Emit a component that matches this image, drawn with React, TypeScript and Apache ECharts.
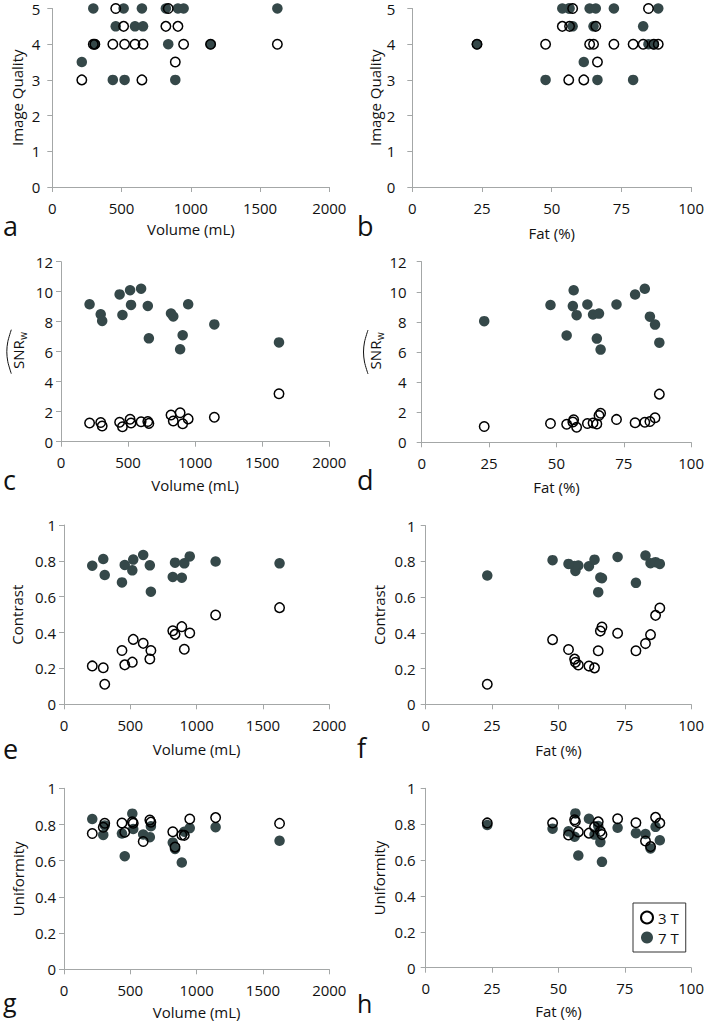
import React, { useEffect, useRef } from "react";
import * as echarts from "echarts";

// ---- data (17 subjects) ----
const volume = [213, 296, 307, 437, 458, 515, 522, 597, 647, 655, 820, 837, 888, 907, 948, 1143, 1625];
const fat = [61.5, 63.6, 23.2, 79.2, 57.5, 56.4, 47.8, 82.8, 56.1, 65.0, 65.8, 84.7, 66.4, 53.8, 72.3, 86.6, 88.2];
const iq3T = [3, 4, 4, 4, 5, 4.5, 4, 4, 3, 4, 4.5, 5, 3.5, 4.5, 4, 4, 4];
const iq7T = [3.5, 5, 4, 3, 4.5, 5, 3, 4.5, 5, 4.5, 5, 4, 3, 5, 5, 4, 5];
const snr3T = [1.25, 1.28, 1.05, 1.3, 1.0, 1.5, 1.25, 1.33, 1.35, 1.22, 1.78, 1.38, 1.93, 1.2, 1.52, 1.63, 3.2];
const snr7T = [9.16, 8.49, 8.05, 9.82, 8.45, 10.1, 9.12, 10.2, 9.05, 6.89, 8.55, 8.35, 6.16, 7.1, 9.16, 7.82, 6.62];
const contrast3T = [0.214, 0.204, 0.112, 0.3, 0.22, 0.235, 0.362, 0.34, 0.253, 0.3, 0.41, 0.39, 0.433, 0.307, 0.398, 0.498, 0.539];
const contrast7T = [0.773, 0.81, 0.721, 0.68, 0.777, 0.747, 0.807, 0.833, 0.775, 0.628, 0.71, 0.79, 0.706, 0.786, 0.825, 0.796, 0.786];
const uniformity3T = [0.75, 0.785, 0.807, 0.808, 0.757, 0.815, 0.807, 0.706, 0.825, 0.813, 0.76, 0.675, 0.742, 0.74, 0.83, 0.838, 0.806];
const uniformity7T = [0.83, 0.742, 0.795, 0.75, 0.625, 0.86, 0.775, 0.745, 0.73, 0.79, 0.7, 0.665, 0.59, 0.76, 0.78, 0.785, 0.71];

const seriesNames = ["3 T", "7 T"];
const panelLetters = ["a", "b", "c", "d", "e", "f", "g", "h"];
const volumeTicks = { min: 0, max: 2000, interval: 500, name: "Volume (mL)" };
const fatTicks = { min: 0, max: 100, interval: 25, name: "Fat (%)" };

const FONT = '"Open Sans", "Noto Sans", sans-serif';
const FS = 15;
const AXIS_COLOR = "#a4a7a7";
const DARK = "#354849";

const metrics = [
  { name: "Image Quality", v3: iq3T, v7: iq7T, min: 0, max: 5, interval: 1 },
  { name: "SNR", v3: snr3T, v7: snr7T, min: 0, max: 12, interval: 2 },
  { name: "Contrast", v3: contrast3T, v7: contrast7T, min: 0, max: 1, interval: 0.2 },
  { name: "Uniformity", v3: uniformity3T, v7: uniformity7T, min: 0, max: 1, interval: 0.2 },
];

// layout (pixels)
const layouts = [
  { left: 52.3, top: 8.5, width: 277, height: 178.5 },
  { left: 412.3, top: 8.5, width: 281, height: 178.5 },
  { left: 61, top: 261.7, width: 268.3, height: 180 },
  { left: 421.7, top: 261.7, width: 272.3, height: 180.6 },
  { left: 64, top: 525, width: 265.3, height: 179.3 },
  { left: 425.7, top: 525.7, width: 268.6, height: 178.6 },
  { left: 64, top: 788.3, width: 265.3, height: 181 },
  { left: 425.7, top: 788.3, width: 268.6, height: 179.4 },
];
const yLabelMargin = [12, 17, 8, 15, 8, 10, 8, 10];
const yNameGap = [28, 29, 0, 0, 40, 39, 39, 39];
const xNameGap = [34, 38, 36, 37, 37, 38, 35, 36];
const letterPos = [
  [3, 225], [357, 225], [3, 479], [357, 479], [3, 748], [357, 747], [3, 1002], [357, 1003],
];
const letterSize = [27, 27, 27, 27, 27, 27, 25, 25];

function buildOption() {
  const grid: any[] = [];
  const xAxis: any[] = [];
  const yAxis: any[] = [];
  const series: any[] = [];
  const graphic: any[] = [];

  for (let i = 0; i < 8; i++) {
    const m = metrics[Math.floor(i / 2)];
    const xs = i % 2 === 0 ? volume : fat;
    const xt = i % 2 === 0 ? volumeTicks : fatTicks;
    const L = layouts[i];
    grid.push({ left: L.left, top: L.top, width: L.width, height: L.height, containLabel: false });
    xAxis.push({
      type: "value",
      gridIndex: i,
      min: xt.min,
      max: xt.max,
      interval: xt.interval,
      name: xt.name,
      nameLocation: "middle",
      nameGap: xNameGap[i],
      nameTextStyle: { fontFamily: FONT, fontSize: FS, color: "#111" },
      axisLine: { show: true, onZero: false, lineStyle: { color: AXIS_COLOR, width: 1 } },
      axisTick: { show: true, length: 5, lineStyle: { color: AXIS_COLOR } },
      splitLine: { show: false },
      axisLabel: {
        fontFamily: FONT,
        fontSize: FS,
        color: "#111",
        margin: 13,
        showMinLabel: true,
        showMaxLabel: true,
        formatter: (v: number) => String(v),
      },
    });
    const isSNR = m.name === "SNR";
    yAxis.push({
      type: "value",
      gridIndex: i,
      min: m.min,
      max: m.max,
      interval: m.interval,
      name: isSNR ? "" : m.name,
      nameLocation: "middle",
      nameRotate: 90,
      nameGap: yNameGap[i],
      nameTextStyle: { fontFamily: FONT, fontSize: FS, color: "#111" },
      axisLine: { show: true, lineStyle: { color: AXIS_COLOR, width: 1 } },
      axisTick: { show: true, length: 5, lineStyle: { color: AXIS_COLOR } },
      splitLine: { show: false },
      axisLabel: {
        fontFamily: FONT,
        fontSize: FS,
        color: "#111",
        margin: yLabelMargin[i],
        formatter: (v: number) => String(Math.round(v * 10) / 10),
      },
    });
    series.push({
      name: seriesNames[1],
      type: "scatter",
      xAxisIndex: i,
      yAxisIndex: i,
      symbol: "circle",
      symbolSize: 10.5,
      itemStyle: { color: DARK, opacity: 1 },
      data: xs.map((x, k) => [x, m.v7[k]]),
      z: 2,
    });
    series.push({
      name: seriesNames[0],
      type: "scatter",
      xAxisIndex: i,
      yAxisIndex: i,
      symbol: "circle",
      symbolSize: 9.5,
      itemStyle: { color: "rgba(255,255,255,0)", borderColor: "#000", borderWidth: 1.5, opacity: 1 },
      data: xs.map((x, k) => [x, m.v3[k]]),
      z: 3,
    });

    graphic.push({
      type: "text",
      x: letterPos[i][0],
      y: letterPos[i][1],
      style: {
        text: panelLetters[i],
        font: `${letterSize[i]}px ${FONT}`,
        fill: "#111",
        textAlign: "left",
        textVerticalAlign: "middle",
        verticalAlign: "middle",
      },
    });

    if (isSNR) {
      const cx = i % 2 === 0 ? 18.3 : 375;
      const cy = L.top + L.height / 2;
      graphic.push({
        type: "group",
        x: cx,
        y: cy,
        rotation: Math.PI / 2,
        children: [
          {
            type: "text",
            x: -3,
            y: 0,
            style: {
              text: "SNR",
              font: `${FS}px ${FONT}`,
              fill: "#111",
              align: "center",
              verticalAlign: "middle",
              textAlign: "center",
              textVerticalAlign: "middle",
            },
          },
          {
            type: "text",
            x: 12,
            y: 5,
            style: {
              text: "w",
              font: `10px ${FONT}`,
              fill: "#111",
              align: "left",
              verticalAlign: "middle",
              textAlign: "left",
              textVerticalAlign: "middle",
            },
          },
          {
            type: "polyline",
            shape: {
              points: [[-22, -7], [-10, -10.5], [0, -11.5], [10, -10.5], [22, -7]],
              smooth: 0.3,
            },
            style: { stroke: "#111", lineWidth: 1, fill: null },
          },
        ],
      });
    }
  }

  return {
    animation: false,
    backgroundColor: "#ffffff",
    textStyle: { fontFamily: FONT },
    grid,
    xAxis,
    yAxis,
    series,
    graphic,
    legend: {
      data: seriesNames,
      orient: "vertical",
      left: 633,
      top: 903,
      padding: [7, 7],
      itemGap: 5,
      itemWidth: 12,
      itemHeight: 12,
      borderColor: "#333",
      borderWidth: 1,
      backgroundColor: "#fff",
      selectedMode: false,
      textStyle: { fontFamily: FONT, fontSize: FS, color: "#111", padding: [0, 0, 0, 0] },
    },
  };
}

export default function App() {
  const ref = useRef<HTMLDivElement | null>(null);
  useEffect(() => {
    if (!ref.current) return;
    const chart = echarts.init(ref.current, undefined, { renderer: "svg" });
    chart.setOption(buildOption() as any);
    return () => chart.dispose();
  }, []);
  return (
    <div
      ref={ref}
      style={{ position: "absolute", left: 0, top: 0, width: 707, height: 1021, background: "#fff" }}
    />
  );
}
